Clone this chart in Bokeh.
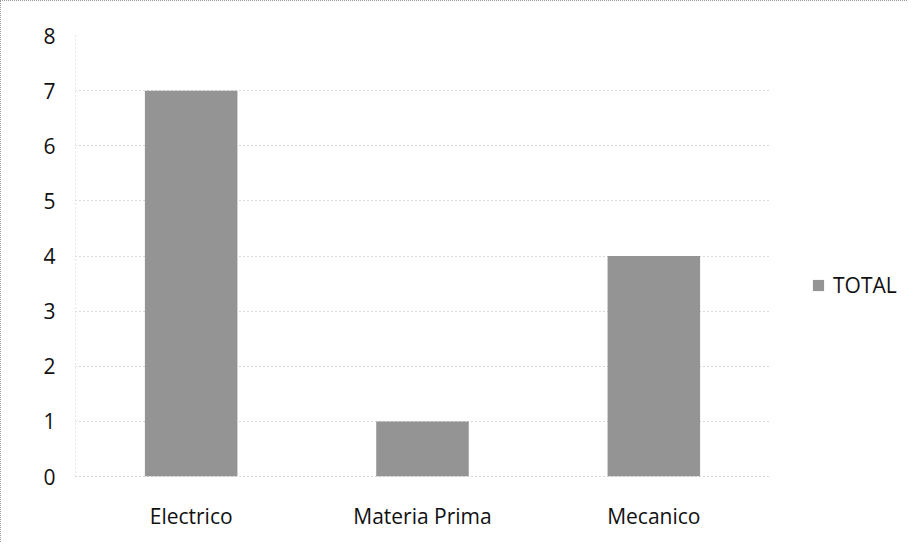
from bokeh.plotting import figure
from bokeh.models import ColumnDataSource, Legend, LegendItem, Range1d, FixedTicker
from bokeh.embed import file_html
from bokeh.resources import INLINE

categories = ["Electrico", "Materia Prima", "Mecanico"]
total = [7, 1, 4]
series_name = "TOTAL"
y_ticks = [0, 1, 2, 3, 4, 5, 6, 7, 8]

FONT = "Open Sans"

# category slots on a numeric axis (slot i spans [i, i+1])
x_pos = [i + 0.5 for i in range(len(categories))]
n_cat = len(categories)

source = ColumnDataSource(data=dict(x=x_pos, val=total, cat=categories))

FRAME_LEFT = 74
FIG_W = 907
PLOT_W = 768 - FRAME_LEFT          # width of the plotted (gridded) region in px
FRAME_W = FIG_W - FRAME_LEFT       # frame extends to the right edge (legend space)

p = figure(
    x_range=Range1d(0, n_cat * FRAME_W / PLOT_W),
    y_range=Range1d(0, 8),
    width=FIG_W,
    height=542,
    output_backend="svg",
    toolbar_location=None,
    min_border_left=FRAME_LEFT,
    min_border_right=0,
    min_border_top=34,
    min_border_bottom=67,
    background_fill_color="white",
    border_fill_color="white",
    outline_line_color=None,
    styles={"border-top": "1px dotted #9a9a9a", "border-left": "1px dotted #9a9a9a"},
)

r = p.vbar(x="x", top="val", width=0.4, source=source,
           fill_color="#949494", line_color=None)

p.xaxis.ticker = FixedTicker(ticks=x_pos)
p.xaxis.major_label_overrides = {x: c for x, c in zip(x_pos, categories)}
p.xaxis.bounds = (0, n_cat)
p.yaxis.ticker = FixedTicker(ticks=y_ticks)

p.xgrid.grid_line_color = None
p.ygrid.grid_line_color = "#b0b0b0"
p.ygrid.grid_line_dash = "1 3"
p.ygrid.grid_line_width = 1
p.ygrid.cross_bounds = (0, n_cat)

for ax in (p.xaxis, p.yaxis):
    ax.major_tick_line_color = None
    ax.minor_tick_line_color = None
    ax.axis_line_color = "#b0b0b0"
    ax.axis_line_dash = "1 3"
    ax.major_label_text_font = FONT
    ax.major_label_text_font_size = "21px"
    ax.major_label_text_color = "#111111"

p.yaxis.axis_line_color = "#d0d0d0"
p.yaxis.major_label_standoff = 14
p.xaxis.major_label_standoff = 19

legend = Legend(
    items=[LegendItem(label=series_name, renderers=[r])],
    location=(736, 177),
    border_line_color=None,
    background_fill_alpha=0,
    glyph_width=14,
    glyph_height=14,
    label_standoff=8,
    label_text_font=FONT,
    label_text_font_size="21px",
    label_text_color="#111111",
    padding=0,
    margin=0,
)
p.add_layout(legend, "center")

open("out.html", "w").write(file_html(p, INLINE))
